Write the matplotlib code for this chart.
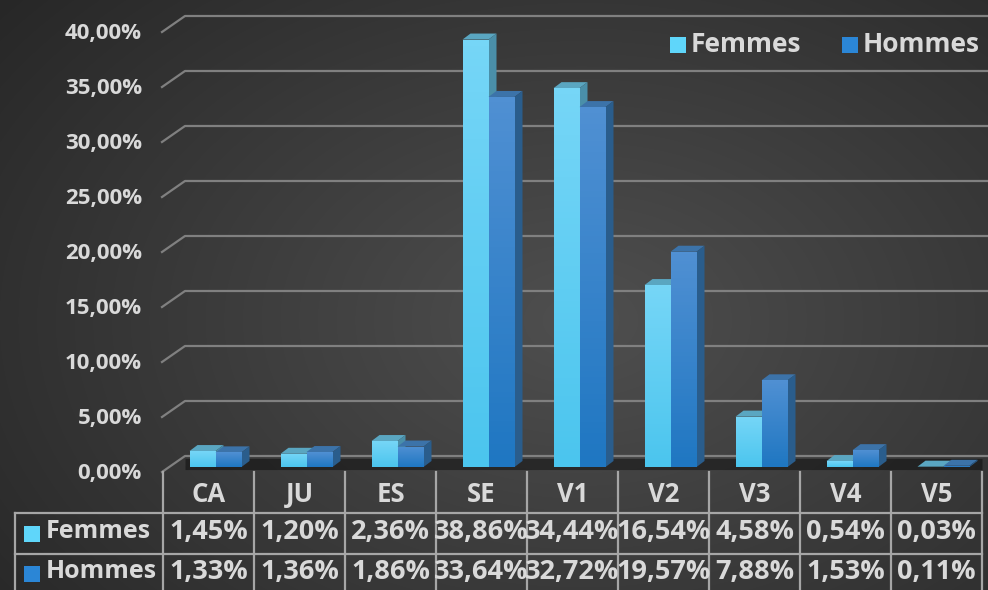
import numpy as np
import matplotlib
matplotlib.use("Agg")
import matplotlib.pyplot as plt
from matplotlib.patches import Polygon, Rectangle

# data
categories = ["CA", "JU", "ES", "SE", "V1", "V2", "V3", "V4", "V5"]
femmes = [1.45, 1.20, 2.36, 38.86, 34.44, 16.54, 4.58, 0.54, 0.03]
hommes = [1.33, 1.36, 1.86, 33.64, 32.72, 19.57, 7.88, 1.53, 0.11]
series_names = ["Femmes", "Hommes"]
yticks = [0, 5, 10, 15, 20, 25, 30, 35, 40]

# colours: front top, front bottom, top face, side face, legend key
col_f = ["#76d6f7", "#4bc5ee", "#5aa6c1", "#4a8fa9", "#5fd6fa"]
col_h = ["#5090d3", "#1f77c2", "#3c73a9", "#2a5d8c", "#2b86d6"]
txt_col = "#d9d9d9"
grid_col = "#808080"
table_col = "#a6a6a6"

plt.rcParams['font.family'] = ['Open Sans', 'DejaVu Sans']
plt.rcParams['font.weight'] = 'bold'

W, H = 988, 590
fig = plt.figure(figsize=(W / 100, H / 100), dpi=100)

# dark radial background
bg = fig.add_axes([0, 0, 1, 1], zorder=-10)
yy, xx = np.mgrid[0:H, 0:W]
r = np.sqrt(((xx - 580) / 620.0) ** 2 + ((yy - 320) / 420.0) ** 2)
shade = np.clip(0.31 - 0.13 * r, 0.15, 0.31)
bg.imshow(np.dstack([shade] * 3), extent=[0, W, H, 0], aspect="auto")
bg.axis("off")

# plot area = front plane of the bars
x_left, x_right, y_base, y_top = 163, 982, 467, 27
ax = fig.add_axes([x_left / W, (H - y_base) / H,
                   (x_right - x_left) / W, (y_base - y_top) / H])
ax.set_xlim(-0.5, len(categories) - 0.5)
ax.set_ylim(0, 40)
ax.axis("off")
ax.patch.set_alpha(0)

px_x = (x_right - x_left) / len(categories)   # pixels per category
px_y = (y_base - y_top) / 40.0                # pixels per percent

# back wall gridlines with the slanted floor edge
for v in yticks:
    xs = [-0.5 - 1 / px_x, -0.5 + 22 / px_x, len(categories) - 0.5 + 7 / px_x]
    ys = [v - 5 / px_y, v + 11 / px_y, v + 11 / px_y]
    ax.plot(xs, ys, color=grid_col, lw=1.6, clip_on=False, zorder=1)
    ax.text(-0.5 - 21 / px_x, v - 6.5 / px_y, f"{v:.2f}%".replace(".", ","),
            ha="right", va="center", color=txt_col, fontsize=16,
            fontweight="bold")

# shadow on the floor
ax.plot([-0.5 + 22 / px_x, len(categories) - 0.5],
        [3 / px_y, 3 / px_y], color="black", lw=8, alpha=0.4,
        solid_capstyle="butt", clip_on=False, zorder=1.5)

bw = 26 / px_x
shift = 7 / px_x
ddx, ddy = 8 / px_x, 6 / px_y
x = np.arange(len(categories))


def draw_bars(xpos, vals, cols, z):
    bars = ax.bar(xpos, vals, width=bw, align="edge", color="none",
                  edgecolor="none", zorder=z + 0.5)
    for b in bars:
        x0, h = b.get_x(), b.get_height()
        top = Polygon([(x0, h), (x0 + bw, h), (x0 + bw + ddx, h + ddy),
                       (x0 + ddx, h + ddy)], closed=True, fc=cols[2],
                      ec="none", zorder=z, clip_on=False)
        side = Polygon([(x0 + bw, 0), (x0 + bw + ddx, ddy),
                        (x0 + bw + ddx, h + ddy), (x0 + bw, h)], closed=True,
                       fc=cols[3], ec="none", zorder=z, clip_on=False)
        ax.add_patch(top)
        ax.add_patch(side)
        c0 = np.array(matplotlib.colors.to_rgb(cols[0]))
        c1 = np.array(matplotlib.colors.to_rgb(cols[1]))
        t = np.linspace(0, 1, 64)[:, None]
        grad = (c0 * (1 - t) + c1 * t)[:, None, :]
        im = ax.imshow(grad, extent=[x0, x0 + bw, 0, max(h, 1e-3)],
                       aspect="auto", zorder=z + 0.2, origin="upper")
        im.set_clip_path(b)


for i in range(len(categories)):
    draw_bars([x[i] + shift - bw], [femmes[i]], col_f, 2 + i * 2)
    draw_bars([x[i] + shift], [hommes[i]], col_h, 3 + i * 2)
ax.set_xlim(-0.5, len(categories) - 0.5)
ax.set_ylim(0, 40)

# overlay in pixel coordinates for the data table and legend
ov = fig.add_axes([0, 0, 1, 1], zorder=5)
ov.set_xlim(0, W)
ov.set_ylim(H, 0)
ov.axis("off")
ov.patch.set_alpha(0)

tl, tx0 = 15, x_left
col_w = px_x
for k in range(len(categories) + 1):
    xv = tx0 + k * col_w
    ov.plot([xv, xv], [472, H], color=table_col, lw=1.6)
ov.plot([tl, tl], [513, H], color=table_col, lw=1.6)
for yv in [513, 554]:
    ov.plot([tl, x_right], [yv, yv], color=table_col, lw=1.6)

for i, c in enumerate(categories):
    cx = tx0 + (i + 0.5) * col_w
    ov.text(cx, 494, c, ha="center", va="center", color=txt_col,
            fontsize=18.5, fontweight="bold")
    ov.text(cx, 532, f"{femmes[i]:.2f}%".replace(".", ","), ha="center",
            va="center", color=txt_col, fontsize=19.5, fontweight="bold")
    ov.text(cx, 572, f"{hommes[i]:.2f}%".replace(".", ","), ha="center",
            va="center", color=txt_col, fontsize=19.5, fontweight="bold")

for name, cols, yc in [(series_names[0], col_f, 534), (series_names[1], col_h, 574)]:
    ov.add_patch(Rectangle((24, yc - 8), 16, 16, fc=cols[4], ec="none"))
    ov.text(46, yc - 2, name, ha="left", va="center", color=txt_col,
            fontsize=18, fontweight="bold")

# legend
for name, cols, lx in [(series_names[0], col_f, 670), (series_names[1], col_h, 842)]:
    ov.add_patch(Rectangle((lx, 37), 16, 16, fc=cols[4], ec="none"))
    ov.text(lx + 21, 44, name, ha="left", va="center", color=txt_col,
            fontsize=19, fontweight="bold")

fig.savefig("out.png", dpi=100)
